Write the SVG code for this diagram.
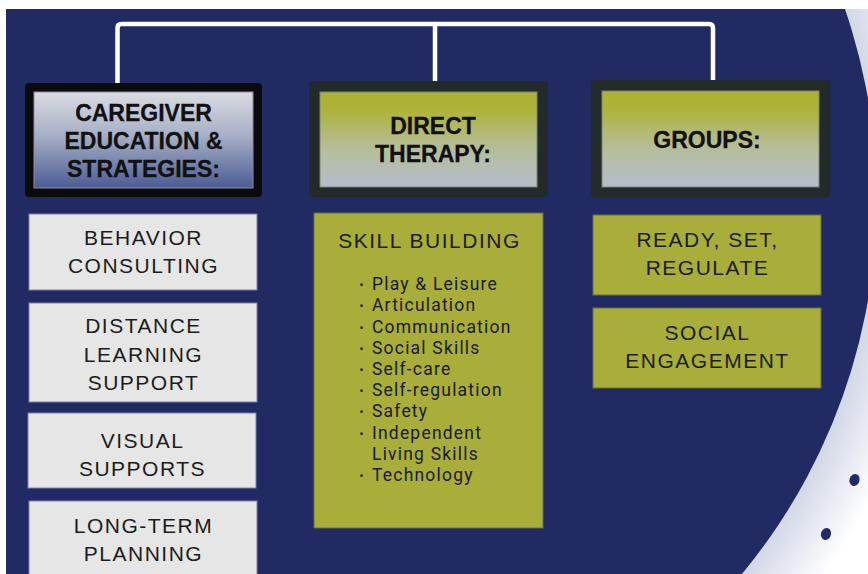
<svg xmlns="http://www.w3.org/2000/svg" width="868" height="574" viewBox="0 0 868 574">
  <defs>
    <clipPath id="frame"><rect x="6" y="9" width="862" height="565"/></clipPath>
    <radialGradient id="glow" gradientUnits="userSpaceOnUse" cx="289.2" cy="199.5" r="700">
      <stop offset="0" stop-color="#ffffff"/>
      <stop offset="0.835" stop-color="#d0d6e6"/>
      <stop offset="0.935" stop-color="#ffffff"/>
      <stop offset="1" stop-color="#ffffff"/>
    </radialGradient>
    <linearGradient id="gBlue" x1="0" y1="0" x2="0" y2="1">
      <stop offset="0" stop-color="#dadce2"/>
      <stop offset="0.45" stop-color="#a8b0c6"/>
      <stop offset="1" stop-color="#4a5c94"/>
    </linearGradient>
    <linearGradient id="gOlive" x1="0" y1="0" x2="0" y2="1">
      <stop offset="0" stop-color="#acb133"/>
      <stop offset="0.18" stop-color="#aeb338"/>
      <stop offset="0.6" stop-color="#b6bd9c"/>
      <stop offset="1" stop-color="#b4becb"/>
    </linearGradient>
    <style>
      .hdr { font-family: "Liberation Sans", Arial, sans-serif; font-weight: bold; font-size: 23px; fill: #111; stroke: #111; stroke-width: 0.3; text-anchor: middle; }
      .sub { font-family: "Liberation Sans", Arial, sans-serif; font-size: 21px; fill: #1c1c1c; text-anchor: middle; letter-spacing: 1.5px; }
      .item { font-family: Roboto, "Liberation Sans", sans-serif; font-size: 17.5px; fill: #1a1a1a; letter-spacing: 1.2px; }
      .bul { font-family: Roboto, "Liberation Sans", sans-serif; font-size: 12px; fill: #1a1a1a; }
      .grey { fill: #e6e6e6; stroke: #7c84a6; stroke-width: 1; }
      .olive { fill: #a9ad3a; stroke: #66703f; stroke-width: 1; }
      .outerDark { fill: #222a2a; }
      .outerBlack { fill: #0b0b0b; }
      .conn { fill: none; stroke: #ffffff; stroke-width: 4.5; stroke-linecap: round; stroke-linejoin: round; }
    </style>
  </defs>

  <!-- background -->
  <rect x="0" y="0" width="868" height="574" fill="#ffffff"/>
  <rect x="6" y="9" width="862" height="565" fill="url(#glow)"/>
  <circle cx="289.2" cy="199.5" r="587.5" fill="#212a63" clip-path="url(#frame)"/>
  <ellipse cx="854.5" cy="480" rx="5" ry="6" fill="#212a63" transform="rotate(20 854.5 480)"/>
  <ellipse cx="826" cy="534" rx="5" ry="6" fill="#212a63" transform="rotate(20 826 534)"/>

  <!-- connectors -->
  <g id="connectors">
    <path class="conn" d="M117.5,86 V28 Q117.5,24 121.5,24 H709 Q713,24 713,28 V84"/>
    <path class="conn" d="M435,24 V82"/>
  </g>

  <!-- header nodes -->
  <g id="caregiver">
    <rect class="outerBlack" x="25" y="83" width="237" height="114" rx="4"/>
    <rect x="34" y="92" width="219" height="96" fill="url(#gBlue)" stroke="#8a8f9c" stroke-width="1"/>
    <text class="hdr" x="143.5" y="121">CAREGIVER</text>
    <text class="hdr" x="143.5" y="149">EDUCATION &amp;</text>
    <text class="hdr" x="143.5" y="177">STRATEGIES:</text>
  </g>
  <g id="direct-therapy">
    <rect class="outerDark" x="309" y="81" width="239" height="116" rx="4"/>
    <rect x="320" y="92" width="217" height="95" fill="url(#gOlive)" stroke="#7d8470" stroke-width="1"/>
    <text class="hdr" x="433" y="134">DIRECT</text>
    <text class="hdr" x="433" y="162">THERAPY:</text>
  </g>
  <g id="groups">
    <rect class="outerDark" x="591" y="80" width="239.5" height="117.5" rx="4"/>
    <rect x="602" y="91" width="217" height="96" fill="url(#gOlive)" stroke="#7d8470" stroke-width="1"/>
    <text class="hdr" x="707" y="148">GROUPS:</text>
  </g>

  <!-- left column -->
  <g id="behavior-consulting">
    <rect class="grey" x="29" y="214" width="228" height="76"/>
    <text class="sub" x="143.5" y="245">BEHAVIOR</text>
    <text class="sub" x="143.5" y="273">CONSULTING</text>
  </g>
  <g id="distance-learning">
    <rect class="grey" x="29" y="303" width="228" height="99"/>
    <text class="sub" x="143.5" y="333">DISTANCE</text>
    <text class="sub" x="143.5" y="362">LEARNING</text>
    <text class="sub" x="143.5" y="390">SUPPORT</text>
  </g>
  <g id="visual-supports">
    <rect class="grey" x="28" y="413" width="228" height="75"/>
    <text class="sub" x="142.5" y="448">VISUAL</text>
    <text class="sub" x="142.5" y="476">SUPPORTS</text>
  </g>
  <g id="long-term-planning">
    <rect class="grey" x="29" y="501" width="228" height="80"/>
    <text class="sub" x="143.5" y="533">LONG-TERM</text>
    <text class="sub" x="143.5" y="561">PLANNING</text>
  </g>

  <!-- middle column -->
  <g id="skill-building">
    <rect class="olive" x="314" y="213" width="229" height="315"/>
    <text class="sub" x="429.5" y="248">SKILL BUILDING</text>
    <text class="bul" x="359.5" y="289">•</text><text class="item" x="372" y="290">Play &amp; Leisure</text>
    <text class="bul" x="359.5" y="310">•</text><text class="item" x="372" y="311">Articulation</text>
    <text class="bul" x="359.5" y="331.5">•</text><text class="item" x="372" y="332.5">Communication</text>
    <text class="bul" x="359.5" y="352.5">•</text><text class="item" x="372" y="353.5">Social Skills</text>
    <text class="bul" x="359.5" y="373.5">•</text><text class="item" x="372" y="374.5">Self-care</text>
    <text class="bul" x="359.5" y="395">•</text><text class="item" x="372" y="396">Self-regulation</text>
    <text class="bul" x="359.5" y="416">•</text><text class="item" x="372" y="417">Safety</text>
    <text class="bul" x="359.5" y="437.5">•</text><text class="item" x="372" y="438.5">Independent</text>
    <text class="item" x="372" y="459.5">Living Skills</text>
    <text class="bul" x="359.5" y="480">•</text><text class="item" x="372" y="481">Technology</text>
  </g>

  <!-- right column -->
  <g id="ready-set-regulate">
    <rect class="olive" x="593" y="215" width="228" height="80"/>
    <text class="sub" x="707.5" y="247">READY, SET,</text>
    <text class="sub" x="707.5" y="275">REGULATE</text>
  </g>
  <g id="social-engagement">
    <rect class="olive" x="593" y="308" width="228" height="80"/>
    <text class="sub" x="707.5" y="340">SOCIAL</text>
    <text class="sub" x="707.5" y="368">ENGAGEMENT</text>
  </g>
</svg>
